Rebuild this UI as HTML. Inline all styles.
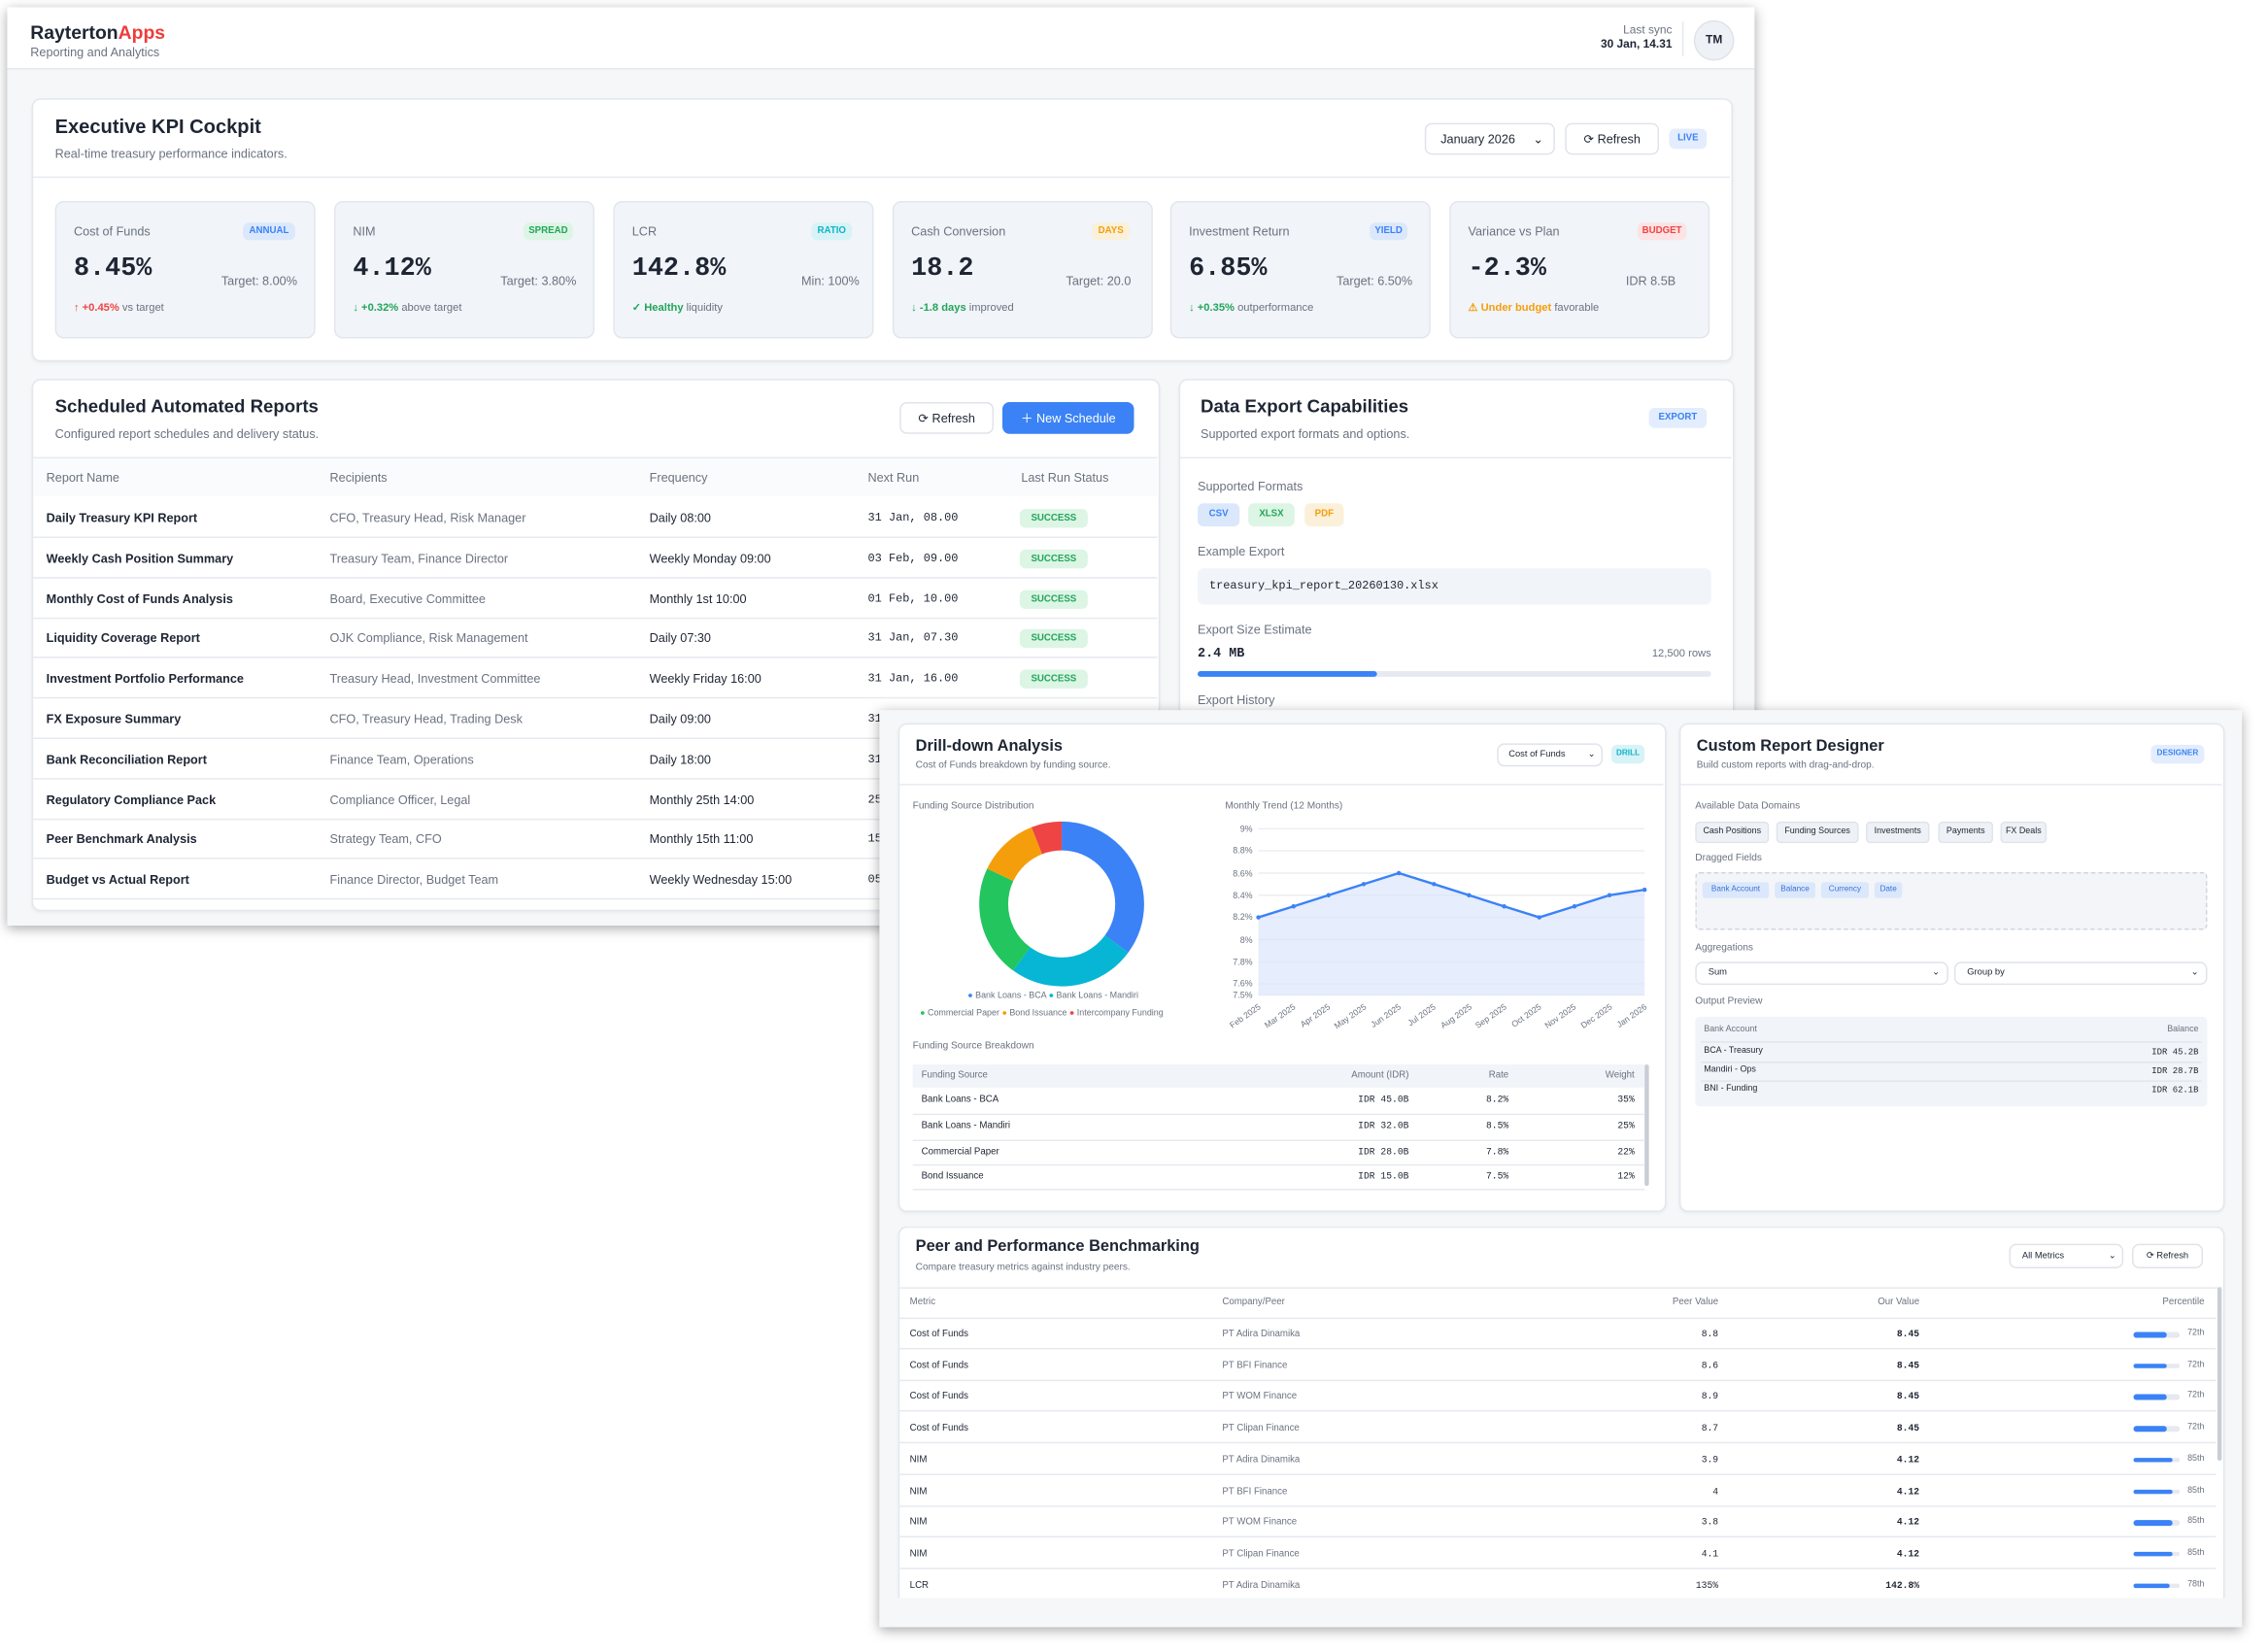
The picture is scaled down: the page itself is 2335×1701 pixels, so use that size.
<!DOCTYPE html>
<html><head><meta charset="utf-8">
<style>
html,body{margin:0;padding:0;width:2335px;height:1701px;overflow:hidden;background:#fff}
#s{position:absolute;left:0;top:0;width:1568px;height:1142px;transform:scale(1.48916);transform-origin:0 0;font-family:"Liberation Sans",sans-serif;color:#1e2533}
.a{position:absolute;white-space:nowrap}
.win{position:absolute;background:#f6f7f9;box-shadow:0 2px 8px rgba(0,0,0,.35);overflow:hidden}
.card{position:absolute;background:#fff;border:1px solid #e3e7ee;border-radius:6px;box-shadow:0 1px 2px rgba(0,0,0,.05)}
.hr{position:absolute;height:1px;background:#e6e9ef}
.t{font-weight:bold}
.g{color:#6b7280}
.badge{position:absolute;border-radius:4px;font-weight:bold;font-size:6.5px;text-align:center}
.tile{position:absolute;background:#f1f4f8;border:1px solid #e2e6ed;border-radius:6px;top:139px;height:93px;width:178px}
.btn{position:absolute;background:#fff;border:1px solid #dfe3ea;border-radius:5px;font-size:9px;box-sizing:border-box;text-align:center}
.mono{font-family:"Liberation Mono",monospace}
.chip{position:absolute;background:#eef1f6;border:1px solid #dfe4ec;border-radius:3px;font-size:6px;text-align:center;box-sizing:border-box;line-height:13px}
.fchip{position:absolute;background:#dbe8fb;color:#3b6fd6;border-radius:2px;font-size:5.5px;text-align:center;line-height:11px;top:610px}
</style></head><body><div id="s">

<!-- BACK WINDOW -->
<div class="win" style="left:5px;top:5px;width:1208px;height:635px">
 <div class="a" style="left:0;top:0;width:1208px;height:42px;background:#fff;border-bottom:1px solid #e5e8ee"></div>
 <div class="a t" style="left:16px;top:10px;font-size:13px">Rayterton<span style="color:#ef3b3b">Apps</span></div>
 <div class="a g" style="left:16px;top:26px;font-size:8.5px">Reporting and Analytics</div>
 <div class="a g" style="right:57px;top:11px;font-size:8px">Last sync</div>
 <div class="a t" style="right:57px;top:21px;font-size:8px">30 Jan, 14.31</div>
 <div class="a" style="left:1158px;top:10px;width:1px;height:24px;background:#e5e8ee"></div>
 <div class="a t" style="left:1166px;top:9px;width:26px;height:26px;border-radius:50%;background:#eef1f5;border:1px solid #dfe3ea;font-size:8px;text-align:center;line-height:26px">TM</div>
</div>
<div class="card" style="left:22px;top:68px;width:1174px;height:180px"></div>
<div class="a t" style="left:38px;top:80px;font-size:13.5px">Executive KPI Cockpit</div>
<div class="a g" style="left:38px;top:101px;font-size:8.5px">Real-time treasury performance indicators.</div>
<div class="hr" style="left:23px;top:122px;width:1173px"></div>
<div class="btn" style="left:985px;top:85px;width:90px;height:22px;line-height:20px;text-align:left;padding-left:10px;font-size:8.5px">January 2026 <span style="position:absolute;right:7px">⌄</span></div>
<div class="btn" style="left:1082px;top:85px;width:65px;height:22px;line-height:20px;font-size:8.5px">⟳ Refresh</div>
<div class="badge" style="left:1154px;top:89px;width:26px;height:14px;line-height:14px;background:#e3edfd;color:#3b82f6">LIVE</div>

<div class="tile" style="left:38px"></div><div class="tile" style="left:231px"></div><div class="tile" style="left:424px"></div><div class="tile" style="left:617px"></div><div class="tile" style="left:809px"></div><div class="tile" style="left:1002px"></div>
<!-- tile contents -->
<div class="a g" style="left:51px;top:155px;font-size:8.5px">Cost of Funds</div><div class="badge" style="left:168px;top:154px;width:36px;height:12px;line-height:12px;background:#dbe8fb;color:#3b82f6">ANNUAL</div>
<div class="a t mono" style="left:51px;top:176px;font-size:18px">8.45%</div><div class="a g" style="left:153px;top:189px;font-size:8.5px">Target: 8.00%</div>
<div class="a" style="left:51px;top:208px;font-size:7.5px;color:#6b7280"><span style="color:#ef4444;font-weight:bold">↑ +0.45%</span> vs target</div>

<div class="a g" style="left:244px;top:155px;font-size:8.5px">NIM</div><div class="badge" style="left:362px;top:154px;width:34px;height:12px;line-height:12px;background:#dcf5e4;color:#22a55a">SPREAD</div>
<div class="a t mono" style="left:244px;top:176px;font-size:18px">4.12%</div><div class="a g" style="left:346px;top:189px;font-size:8.5px">Target: 3.80%</div>
<div class="a" style="left:244px;top:208px;font-size:7.5px;color:#6b7280"><span style="color:#22a55a;font-weight:bold">↓ +0.32%</span> above target</div>

<div class="a g" style="left:437px;top:155px;font-size:8.5px">LCR</div><div class="badge" style="left:561px;top:154px;width:28px;height:12px;line-height:12px;background:#d7f3f7;color:#0fb3c9">RATIO</div>
<div class="a t mono" style="left:437px;top:176px;font-size:18px">142.8%</div><div class="a g" style="left:554px;top:189px;font-size:8.5px">Min: 100%</div>
<div class="a" style="left:437px;top:208px;font-size:7.5px;color:#6b7280"><span style="color:#22a55a;font-weight:bold">✓ Healthy</span> liquidity</div>

<div class="a g" style="left:630px;top:155px;font-size:8.5px">Cash Conversion</div><div class="badge" style="left:755px;top:154px;width:26px;height:12px;line-height:12px;background:#fbf0d9;color:#f59e0b">DAYS</div>
<div class="a t mono" style="left:630px;top:176px;font-size:18px">18.2</div><div class="a g" style="left:737px;top:189px;font-size:8.5px">Target: 20.0</div>
<div class="a" style="left:630px;top:208px;font-size:7.5px;color:#6b7280"><span style="color:#22a55a;font-weight:bold">↓ -1.8 days</span> improved</div>

<div class="a g" style="left:822px;top:155px;font-size:8.5px">Investment Return</div><div class="badge" style="left:947px;top:154px;width:26px;height:12px;line-height:12px;background:#dbe8fb;color:#3b82f6">YIELD</div>
<div class="a t mono" style="left:822px;top:176px;font-size:18px">6.85%</div><div class="a g" style="left:924px;top:189px;font-size:8.5px">Target: 6.50%</div>
<div class="a" style="left:822px;top:208px;font-size:7.5px;color:#6b7280"><span style="color:#22a55a;font-weight:bold">↓ +0.35%</span> outperformance</div>

<div class="a g" style="left:1015px;top:155px;font-size:8.5px">Variance vs Plan</div><div class="badge" style="left:1132px;top:154px;width:34px;height:12px;line-height:12px;background:#fde3e3;color:#ef4444">BUDGET</div>
<div class="a t mono" style="left:1015px;top:176px;font-size:18px">-2.3%</div><div class="a g" style="left:1124px;top:189px;font-size:8.5px">IDR 8.5B</div>
<div class="a" style="left:1015px;top:208px;font-size:7.5px;color:#6b7280"><span style="color:#f59e0b;font-weight:bold">⚠ Under budget</span> favorable</div>

<!-- Scheduled reports -->
<div class="card" style="left:22px;top:262px;width:778px;height:366px"></div>
<div class="a t" style="left:38px;top:274px;font-size:12.5px">Scheduled Automated Reports</div>
<div class="a g" style="left:38px;top:295px;font-size:8.5px">Configured report schedules and delivery status.</div>
<div class="btn" style="left:622px;top:278px;width:65px;height:22px;line-height:20px;font-size:8.5px">⟳ Refresh</div>
<div class="btn" style="left:693px;top:278px;width:91px;height:22px;line-height:22px;font-size:8.5px;background:#3b82f6;color:#fff;border:none">＋ New Schedule</div>
<div class="hr" style="left:23px;top:316px;width:777px"></div>
<div class="a" style="left:23px;top:317px;width:777px;height:26px;background:#fafbfc"></div>
<div style="font-size:8.5px">
<div class="a g" style="left:32px;top:325px">Report Name</div><div class="a g" style="left:228px;top:325px">Recipients</div><div class="a g" style="left:449px;top:325px">Frequency</div><div class="a g" style="left:600px;top:325px">Next Run</div><div class="a g" style="left:706px;top:325px">Last Run Status</div>
</div>
<div id="rows"></div>

<!-- Data export -->
<div class="card" style="left:815px;top:262px;width:382px;height:366px"></div>
<div class="a t" style="left:830px;top:274px;font-size:12.5px">Data Export Capabilities</div>
<div class="a g" style="left:830px;top:295px;font-size:8.5px">Supported export formats and options.</div>
<div class="badge" style="left:1140px;top:282px;width:40px;height:14px;line-height:14px;background:#e3edfd;color:#3b82f6">EXPORT</div>
<div class="hr" style="left:816px;top:316px;width:381px"></div>
<div class="a g" style="left:828px;top:331px;font-size:8.5px">Supported Formats</div>
<div class="badge" style="left:828px;top:348px;width:29px;height:16px;line-height:16px;background:#dbe8fb;color:#3b82f6">CSV</div>
<div class="badge" style="left:863px;top:348px;width:32px;height:16px;line-height:16px;background:#dcf5e4;color:#22a55a">XLSX</div>
<div class="badge" style="left:902px;top:348px;width:27px;height:16px;line-height:16px;background:#fbf0d9;color:#f59e0b">PDF</div>
<div class="a g" style="left:828px;top:376px;font-size:8.5px">Example Export</div>
<div class="a mono" style="left:828px;top:393px;width:355px;height:25px;background:#f1f4f8;border-radius:4px;font-size:8px;line-height:25px;padding-left:8px;box-sizing:border-box">treasury_kpi_report_20260130.xlsx</div>
<div class="a g" style="left:828px;top:430px;font-size:8.5px">Export Size Estimate</div>
<div class="a t mono" style="left:828px;top:447px;font-size:9px">2.4 MB</div>
<div class="a g" style="right:385px;top:447px;font-size:7.5px">12,500 rows</div>
<div class="a" style="left:828px;top:464px;width:355px;height:4px;background:#e6eaf0;border-radius:2px"></div>
<div class="a" style="left:828px;top:464px;width:124px;height:4px;background:#3b82f6;border-radius:2px"></div>
<div class="a g" style="left:828px;top:479px;font-size:8.5px">Export History</div>

<!-- FRONT WINDOW -->
<div class="win" style="left:608px;top:491px;width:942px;height:634px"></div>
<!-- Drill-down -->
<div class="card" style="left:621px;top:500px;width:529px;height:336px"></div>
<div class="a t" style="left:633px;top:510px;font-size:11px">Drill-down Analysis</div>
<div class="a g" style="left:633px;top:526px;font-size:6.8px">Cost of Funds breakdown by funding source.</div>
<div class="btn" style="left:1035px;top:514px;width:73px;height:16px;line-height:14px;font-size:6.3px;text-align:left;padding-left:7px">Cost of Funds<span style="position:absolute;right:4px">⌄</span></div>
<div class="badge" style="left:1114px;top:515px;width:23px;height:13px;line-height:13px;background:#d7f3f7;color:#0fb3c9;font-size:5.5px">DRILL</div>
<div class="hr" style="left:622px;top:542px;width:528px"></div>
<div class="a g" style="left:631px;top:554px;font-size:6.8px">Funding Source Distribution</div>
<svg class="a" style="left:664px;top:555px" width="140" height="140" viewBox="0 0 140 140">
 <g transform="rotate(-90 70 70)" fill="none" stroke-width="20">
  <circle cx="70" cy="70" r="47" stroke="#3b82f6" stroke-dasharray="103.4 300"/>
  <circle cx="70" cy="70" r="47" stroke="#06b6d4" stroke-dasharray="73.8 300" stroke-dashoffset="-103.4"/>
  <circle cx="70" cy="70" r="47" stroke="#22c55e" stroke-dasharray="65 300" stroke-dashoffset="-177.2"/>
  <circle cx="70" cy="70" r="47" stroke="#f59e0b" stroke-dasharray="35.4 300" stroke-dashoffset="-242.2"/>
  <circle cx="70" cy="70" r="47" stroke="#ef4444" stroke-dasharray="17.7 300" stroke-dashoffset="-277.6"/>
 </g>
</svg>
<div class="a g" style="left:669px;top:686px;font-size:6px"><span style="color:#3b82f6">●</span> Bank Loans - BCA <span style="color:#06b6d4">●</span> Bank Loans - Mandiri</div>
<div class="a g" style="left:636px;top:698px;font-size:6px"><span style="color:#22c55e">●</span> Commercial Paper <span style="color:#f59e0b">●</span> Bond Issuance <span style="color:#ef4444">●</span> Intercompany Funding</div>

<div class="a g" style="left:847px;top:554px;font-size:6.8px">Monthly Trend (12 Months)</div>
<svg class="a" style="left:840px;top:565px" width="305" height="150" viewBox="840 565 305 150" font-family="Liberation Sans" font-size="6" fill="#6b7280">
 <g stroke="#e6e9ef" stroke-width="0.8">
  <line x1="870" x2="1137" y1="573" y2="573"/><line x1="870" x2="1137" y1="588.3" y2="588.3"/><line x1="870" x2="1137" y1="603.7" y2="603.7"/><line x1="870" x2="1137" y1="619" y2="619"/><line x1="870" x2="1137" y1="634.3" y2="634.3"/><line x1="870" x2="1137" y1="649.7" y2="649.7"/><line x1="870" x2="1137" y1="665" y2="665"/><line x1="870" x2="1137" y1="680.3" y2="680.3"/><line x1="870" x2="1137" y1="688" y2="688"/>
 </g>
 <g text-anchor="end"><text x="866" y="575">9%</text><text x="866" y="590">8.8%</text><text x="866" y="606">8.6%</text><text x="866" y="621">8.4%</text><text x="866" y="636">8.2%</text><text x="866" y="652">8%</text><text x="866" y="667">7.8%</text><text x="866" y="682">7.6%</text><text x="866" y="690">7.5%</text></g>
 <path d="M870 634.3 L894.3 626.7 L918.5 619 L942.8 611.3 L967.1 603.7 L991.4 611.3 L1015.6 619 L1039.9 626.7 L1064.2 634.3 L1088.5 626.7 L1112.7 619 L1137 615.2 L1137 688 L870 688Z" fill="#dbe6fb" fill-opacity="0.7"/>
 <polyline points="870,634.3 894.3,626.7 918.5,619 942.8,611.3 967.1,603.7 991.4,611.3 1015.6,619 1039.9,626.7 1064.2,634.3 1088.5,626.7 1112.7,619 1137,615.2" fill="none" stroke="#3b82f6" stroke-width="1.6"/>
 <g fill="#3b82f6"><circle cx="870" cy="634.3" r="1.5"/><circle cx="894.3" cy="626.7" r="1.5"/><circle cx="918.5" cy="619" r="1.5"/><circle cx="942.8" cy="611.3" r="1.5"/><circle cx="967.1" cy="603.7" r="1.5"/><circle cx="991.4" cy="611.3" r="1.5"/><circle cx="1015.6" cy="619" r="1.5"/><circle cx="1039.9" cy="626.7" r="1.5"/><circle cx="1064.2" cy="634.3" r="1.5"/><circle cx="1088.5" cy="626.7" r="1.5"/><circle cx="1112.7" cy="619" r="1.5"/><circle cx="1137" cy="615.2" r="1.5"/></g>
 <g text-anchor="end" font-size="5.8">
  <text transform="translate(872 697) rotate(-35)">Feb 2025</text><text transform="translate(896 697) rotate(-35)">Mar 2025</text><text transform="translate(920 697) rotate(-35)">Apr 2025</text><text transform="translate(945 697) rotate(-35)">May 2025</text><text transform="translate(969 697) rotate(-35)">Jun 2025</text><text transform="translate(993 697) rotate(-35)">Jul 2025</text><text transform="translate(1018 697) rotate(-35)">Aug 2025</text><text transform="translate(1042 697) rotate(-35)">Sep 2025</text><text transform="translate(1066 697) rotate(-35)">Oct 2025</text><text transform="translate(1090 697) rotate(-35)">Nov 2025</text><text transform="translate(1115 697) rotate(-35)">Dec 2025</text><text transform="translate(1139 697) rotate(-35)">Jan 2026</text>
 </g>
</svg>
<div class="a g" style="left:631px;top:720px;font-size:6.8px">Funding Source Breakdown</div>
<div class="a" style="left:631px;top:736px;width:506px;height:16px;background:#f1f4f8"></div>
<div class="a" style="left:1137px;top:736px;width:3px;height:84px;background:#c9ced6;border-radius:2px"></div>
<div style="font-size:6.5px">
<div class="a g" style="left:637px;top:740px">Funding Source</div><div class="a g" style="right:594px;top:740px">Amount (IDR)</div><div class="a g" style="right:525px;top:740px">Rate</div><div class="a g" style="right:438px;top:740px">Weight</div>
<div class="a" style="left:637px;top:757px">Bank Loans - BCA</div><div class="a mono" style="right:594px;top:757px">IDR 45.0B</div><div class="a mono" style="right:525px;top:757px">8.2%</div><div class="a mono" style="right:438px;top:757px">35%</div>
<div class="hr" style="left:631px;top:770px;width:506px"></div>
<div class="a" style="left:637px;top:775px">Bank Loans - Mandiri</div><div class="a mono" style="right:594px;top:775px">IDR 32.0B</div><div class="a mono" style="right:525px;top:775px">8.5%</div><div class="a mono" style="right:438px;top:775px">25%</div>
<div class="hr" style="left:631px;top:788px;width:506px"></div>
<div class="a" style="left:637px;top:793px">Commercial Paper</div><div class="a mono" style="right:594px;top:793px">IDR 28.0B</div><div class="a mono" style="right:525px;top:793px">7.8%</div><div class="a mono" style="right:438px;top:793px">22%</div>
<div class="hr" style="left:631px;top:805px;width:506px"></div>
<div class="a" style="left:637px;top:810px">Bond Issuance</div><div class="a mono" style="right:594px;top:810px">IDR 15.0B</div><div class="a mono" style="right:525px;top:810px">7.5%</div><div class="a mono" style="right:438px;top:810px">12%</div>
<div class="hr" style="left:631px;top:822px;width:506px"></div>
</div>

<!-- Custom report designer -->
<div class="card" style="left:1161px;top:500px;width:375px;height:336px"></div>
<div class="a t" style="left:1173px;top:510px;font-size:11px">Custom Report Designer</div>
<div class="a g" style="left:1173px;top:526px;font-size:6.8px">Build custom reports with drag-and-drop.</div>
<div class="badge" style="left:1487px;top:515px;width:37px;height:13px;line-height:13px;background:#e3edfd;color:#3b82f6;font-size:5.5px">DESIGNER</div>
<div class="hr" style="left:1162px;top:542px;width:374px"></div>
<div class="a g" style="left:1172px;top:554px;font-size:6.8px">Available Data Domains</div>
<div class="chip" style="left:1172px;top:568px;width:51px">Cash Positions</div>
<div class="chip" style="left:1228px;top:568px;width:57px">Funding Sources</div>
<div class="chip" style="left:1290px;top:568px;width:44px">Investments</div>
<div class="chip" style="left:1340px;top:568px;width:38px">Payments</div>
<div class="chip" style="left:1383px;top:568px;width:32px">FX Deals</div>
<div class="a g" style="left:1172px;top:590px;font-size:6.8px">Dragged Fields</div>
<div class="a" style="left:1172px;top:603px;width:354px;height:40px;background:#f3f5f8;border:1px dashed #cfd5de;border-radius:3px;box-sizing:border-box"></div>
<div class="fchip" style="left:1177px;width:46px">Bank Account</div>
<div class="fchip" style="left:1227px;width:28px">Balance</div>
<div class="fchip" style="left:1259px;width:33px">Currency</div>
<div class="fchip" style="left:1296px;width:19px">Date</div>
<div class="a g" style="left:1172px;top:652px;font-size:6.8px">Aggregations</div>
<div class="btn" style="left:1172px;top:665px;width:175px;height:16px;line-height:14px;font-size:6.3px;text-align:left;padding-left:8px">Sum<span style="position:absolute;right:5px">⌄</span></div>
<div class="btn" style="left:1351px;top:665px;width:175px;height:16px;line-height:14px;font-size:6.3px;text-align:left;padding-left:8px">Group by<span style="position:absolute;right:5px">⌄</span></div>
<div class="a g" style="left:1172px;top:689px;font-size:6.8px">Output Preview</div>
<div class="a" style="left:1172px;top:703px;width:354px;height:62px;background:#f1f4f8;border-radius:3px"></div>
<div style="font-size:6px">
<div class="a g" style="left:1178px;top:709px">Bank Account</div><div class="a g" style="right:48px;top:709px">Balance</div>
<div class="hr" style="left:1176px;top:720px;width:346px;background:#e2e6ec"></div>
<div class="a" style="left:1178px;top:724px">BCA - Treasury</div><div class="a mono" style="right:48px;top:724px">IDR 45.2B</div>
<div class="hr" style="left:1176px;top:734px;width:346px;background:#e2e6ec"></div>
<div class="a" style="left:1178px;top:737px">Mandiri - Ops</div><div class="a mono" style="right:48px;top:737px">IDR 28.7B</div>
<div class="hr" style="left:1176px;top:747px;width:346px;background:#e2e6ec"></div>
<div class="a" style="left:1178px;top:750px">BNI - Funding</div><div class="a mono" style="right:48px;top:750px">IDR 62.1B</div>
</div>

<!-- Peer -->
<div class="card" style="left:621px;top:848px;width:915px;height:270px;border-bottom:none;border-radius:6px 6px 0 0"></div>
<div class="a" style="left:608px;top:1105px;width:942px;height:20px;background:#f6f7f9"></div>
<div class="a t" style="left:633px;top:856px;font-size:11px">Peer and Performance Benchmarking</div>
<div class="a g" style="left:633px;top:873px;font-size:6.8px">Compare treasury metrics against industry peers.</div>
<div class="btn" style="left:1389px;top:860px;width:79px;height:17px;line-height:15px;font-size:6.3px;text-align:left;padding-left:8px">All Metrics<span style="position:absolute;right:4px">⌄</span></div>
<div class="btn" style="left:1474px;top:860px;width:49px;height:17px;line-height:15px;font-size:6.3px">⟳ Refresh</div>
<div class="hr" style="left:622px;top:890px;width:914px"></div>
<div class="a" style="left:1533px;top:890px;width:3px;height:120px;background:#c9ced6;border-radius:2px"></div>
<div id="peer" style="font-size:6.5px"></div>

</div>
<script>
var R=[["Daily Treasury KPI Report","CFO, Treasury Head, Risk Manager","Daily 08:00","31 Jan, 08.00"],["Weekly Cash Position Summary","Treasury Team, Finance Director","Weekly Monday 09:00","03 Feb, 09.00"],["Monthly Cost of Funds Analysis","Board, Executive Committee","Monthly 1st 10:00","01 Feb, 10.00"],["Liquidity Coverage Report","OJK Compliance, Risk Management","Daily 07:30","31 Jan, 07.30"],["Investment Portfolio Performance","Treasury Head, Investment Committee","Weekly Friday 16:00","31 Jan, 16.00"],["FX Exposure Summary","CFO, Treasury Head, Trading Desk","Daily 09:00","31 Jan, 09.00"],["Bank Reconciliation Report","Finance Team, Operations","Daily 18:00","31 Jan, 18.00"],["Regulatory Compliance Pack","Compliance Officer, Legal","Monthly 25th 14:00","25 Jan, 14.00"],["Peer Benchmark Analysis","Strategy Team, CFO","Monthly 15th 11:00","15 Feb, 11.00"],["Budget vs Actual Report","Finance Director, Budget Team","Weekly Wednesday 15:00","05 Feb, 15.00"]];
var h='';R.forEach(function(r,i){var y=353+i*27.8;
h+='<div class="a" style="left:32px;top:'+y+'px;font-size:8.5px;font-weight:bold;color:#1e2533">'+r[0]+'</div>';
h+='<div class="a g" style="left:228px;top:'+y+'px;font-size:8.5px">'+r[1]+'</div>';
h+='<div class="a" style="left:449px;top:'+y+'px;font-size:8.5px">'+r[2]+'</div>';
h+='<div class="a mono" style="left:600px;top:'+(y+1)+'px;font-size:8px">'+r[3]+'</div>';
if(i<5)h+='<div class="badge" style="left:705px;top:'+(y-1)+'px;width:47px;height:13px;line-height:13px;background:#dcf5e4;color:#22a55a">SUCCESS</div>';
h+='<div class="hr" style="left:23px;top:'+(y+18)+'px;width:777px"></div>';});
document.getElementById('rows').outerHTML=h;
var P=[["Cost of Funds","PT Adira Dinamika","8.8","8.45",72],["Cost of Funds","PT BFI Finance","8.6","8.45",72],["Cost of Funds","PT WOM Finance","8.9","8.45",72],["Cost of Funds","PT Clipan Finance","8.7","8.45",72],["NIM","PT Adira Dinamika","3.9","4.12",85],["NIM","PT BFI Finance","4","4.12",85],["NIM","PT WOM Finance","3.8","4.12",85],["NIM","PT Clipan Finance","4.1","4.12",85],["LCR","PT Adira Dinamika","135%","142.8%",78]];
var p='<div class="a g" style="left:629px;top:897px">Metric</div><div class="a g" style="left:845px;top:897px">Company/Peer</div><div class="a g" style="right:380px;top:897px">Peer Value</div><div class="a g" style="right:241px;top:897px">Our Value</div><div class="a g" style="right:44px;top:897px">Percentile</div><div class="hr" style="left:622px;top:911px;width:910px"></div>';
P.forEach(function(r,i){var y=919+i*21.7;
p+='<div class="a" style="left:629px;top:'+y+'px">'+r[0]+'</div><div class="a g" style="left:845px;top:'+y+'px">'+r[1]+'</div><div class="a mono" style="right:380px;top:'+y+'px">'+r[2]+'</div><div class="a mono t" style="right:241px;top:'+y+'px">'+r[3]+'</div>';
p+='<div class="a" style="left:1475px;top:'+(y+2)+'px;width:32px;height:3.5px;background:#e6eaf0;border-radius:2px"></div><div class="a" style="left:1475px;top:'+(y+2)+'px;width:'+(32*r[4]/100)+'px;height:3.5px;background:#3b82f6;border-radius:2px"></div><div class="a g" style="right:44px;top:'+y+'px;font-size:6px">'+r[4]+'th</div>';
if(i<8)p+='<div class="hr" style="left:622px;top:'+(y+13)+'px;width:910px"></div>';});
document.getElementById('peer').innerHTML=p;
</script>
</body></html>
